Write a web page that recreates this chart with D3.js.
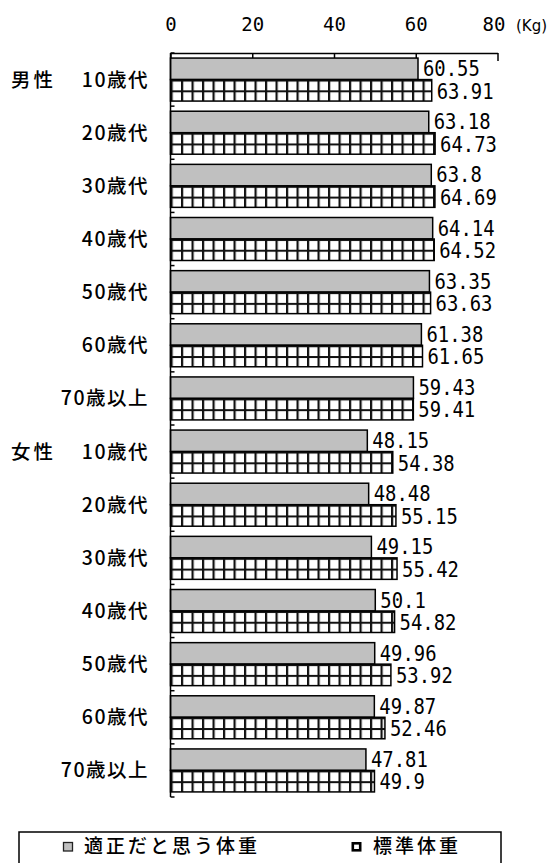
<!DOCTYPE html>
<html>
<head>
<meta charset="utf-8">
<script src="https://cdn.jsdelivr.net/npm/d3@7"></script>
<style>
  html, body { margin: 0; padding: 0; background: #fff; }
  svg { display: block; }
</style>
</head>
<body>
<svg id="chart" width="556" height="863"></svg>
<script>
// Age bands, grouped by sex
const groups = ["男性", "女性"];
const ages = ["10歳代", "20歳代", "30歳代", "40歳代", "50歳代", "60歳代", "70歳以上"];

// Weight considered appropriate (kg)
const idealMale   = [60.55, 63.18, 63.8, 64.14, 63.35, 61.38, 59.43];
const idealFemale = [48.15, 48.48, 49.15, 50.1, 49.96, 49.87, 47.81];
// Standard weight (kg)
const standardMale   = [63.91, 64.73, 64.69, 64.52, 63.63, 61.65, 59.41];
const standardFemale = [54.38, 55.15, 55.42, 54.82, 53.92, 52.46, 49.9];

const seriesNames = ["適正だと思う体重", "標準体重"];
const xTicks = [0, 20, 40, 60, 80];
const unitLabel = "(Kg)";

// Rows: one per sex/age combination
const rows = [];
groups.forEach((g, gi) => {
  ages.forEach((a, ai) => {
    rows.push({
      key: g + a,
      group: ai === 0 ? g : null,
      age: a,
      values: gi === 0 ? [idealMale[ai], standardMale[ai]] : [idealFemale[ai], standardFemale[ai]]
    });
  });
});

const svg = d3.select("#chart");

const x = d3.scaleLinear().domain([0, 80]).range([170.5, 497.5]);
const y = d3.scaleBand().domain(rows.map(r => r.key)).range([53, 797]).padding(0);
const ySub = d3.scaleBand().domain([0, 1]).range([0, y.bandwidth()])
  .paddingInner(0).paddingOuter(0.236);

// Grid-like fill for the standard weight bars
const defs = svg.append("defs");
const cell = 10.5;
const pat = defs.append("pattern")
  .attr("id", "grid")
  .attr("patternUnits", "userSpaceOnUse")
  .attr("width", cell).attr("height", ySub.bandwidth() / 2);
pat.append("rect").attr("width", cell).attr("height", ySub.bandwidth() / 2).attr("fill", "#fff");
pat.append("rect").attr("x", 0).attr("y", 0).attr("width", 2.2).attr("height", ySub.bandwidth() / 2).attr("fill", "#111");
pat.append("rect").attr("x", 0).attr("y", 0).attr("width", cell).attr("height", 2).attr("fill", "#111");

const fills = ["#c0c0c0", "url(#grid)"];

// Bars
const rowG = svg.append("g").selectAll("g.row")
  .data(rows).join("g")
  .attr("class", "row")
  .attr("transform", d => `translate(0,${y(d.key)})`);

rowG.each(function(d) {
  const g = d3.select(this);
  d.values.forEach((v, i) => {
    const by = ySub(i);
    const bh = ySub.bandwidth();
    const bar = g.append("g").attr("transform", `translate(${x(0)},${by})`);
    bar.append("rect")
      .attr("x", 0).attr("y", 0)
      .attr("width", x(v) - x(0))
      .attr("height", bh)
      .attr("fill", fills[i])
      .attr("stroke", "#000")
      .attr("stroke-width", 1.5);
    // value label
    g.append("text")
      .attr("transform", `translate(${x(v) + 5},${by + bh - (i === 0 ? 3.5 : 2.5)}) scale(0.9,1)`)
      .attr("font-family", "'DejaVu Sans Mono', monospace")
      .attr("font-size", 21)
      .attr("fill", "#000")
      .text(String(v));
  });
});

// Top axis
const xAxis = d3.axisTop(x).tickValues(xTicks).tickSize(-5).tickSizeOuter(0).tickPadding(21);
const axG = svg.append("g").attr("transform", "translate(0,53)").call(xAxis);
axG.select(".domain").attr("stroke", "#000").attr("stroke-width", 1.5);
axG.selectAll(".tick line").attr("stroke", "#000").attr("stroke-width", 1.5);
axG.selectAll(".tick line").filter(d => d === 80).attr("y2", 8);
axG.selectAll(".tick text")
  .attr("font-family", "'DejaVu Sans Mono', monospace")
  .attr("font-size", 19)
  .attr("fill", "#000")
  .attr("dy", "0.7em")
  .attr("y", -35);
axG.selectAll(".tick text").filter(d => d === 80).attr("dx", -4);

svg.append("text")
  .attr("x", 516).attr("y", 31)
  .attr("font-family", "'DejaVu Sans', sans-serif")
  .attr("font-size", 15)
  .attr("fill", "#000")
  .text(unitLabel);

// Left axis with ticks at row boundaries
const bounds = rows.map(r => y(r.key)).concat([y.range()[1]]);
svg.append("line")
  .attr("x1", x(0)).attr("x2", x(0))
  .attr("y1", y.range()[0]).attr("y2", y.range()[1])
  .attr("stroke", "#000").attr("stroke-width", 1.5);
svg.append("g").selectAll("line").data(bounds).join("line")
  .attr("x1", x(0)).attr("x2", x(0) + 4)
  .attr("y1", d => d).attr("y2", d => d)
  .attr("stroke", "#000").attr("stroke-width", 1.5);

// Category labels
const labelFont = "'Noto Sans CJK JP', sans-serif";
svg.append("g").selectAll("text").data(rows).join("text")
  .attr("x", 149)
  .attr("y", d => y(d.key) + y.bandwidth() / 2 + 7)
  .attr("text-anchor", "end")
  .attr("font-family", labelFont)
  .attr("font-size", 19.5)
  .attr("font-weight", 500)
  .attr("letter-spacing", 1.5)
  .attr("fill", "#000")
  .text(d => d.age);

svg.append("g").selectAll("text").data(rows.filter(r => r.group)).join("text")
  .attr("x", 11)
  .attr("y", d => y(d.key) + y.bandwidth() / 2 + 7)
  .attr("font-family", labelFont)
  .attr("font-size", 19.5)
  .attr("font-weight", 500)
  .attr("letter-spacing", 3)
  .attr("fill", "#000")
  .text(d => d.group);

// Legend
svg.append("rect")
  .attr("x", 19).attr("y", 832).attr("width", 482).attr("height", 60)
  .attr("fill", "#fff").attr("stroke", "#000").attr("stroke-width", 1.5);

const legendItems = [
  { name: seriesNames[0], sx: 63.5, tx: 84 },
  { name: seriesNames[1], sx: 352, tx: 373 }
];
legendItems.forEach((it, i) => {
  if (i === 0) {
    svg.append("rect")
      .attr("x", it.sx).attr("y", 842.5).attr("width", 9).attr("height", 8.5)
      .attr("fill", "#c0c0c0").attr("stroke", "#222").attr("stroke-width", 1.3);
  } else {
    svg.append("rect")
      .attr("x", it.sx + 0.8).attr("y", 843.3).attr("width", 7.4).attr("height", 7)
      .attr("fill", "#fff").attr("stroke", "#000").attr("stroke-width", 2.6);
  }
  svg.append("text")
    .attr("x", it.tx).attr("y", 853)
    .attr("font-family", labelFont)
    .attr("font-size", 19)
    .attr("font-weight", 500)
    .attr("letter-spacing", 3)
    .attr("fill", "#000")
    .text(it.name);
});
</script>
</body>
</html>
